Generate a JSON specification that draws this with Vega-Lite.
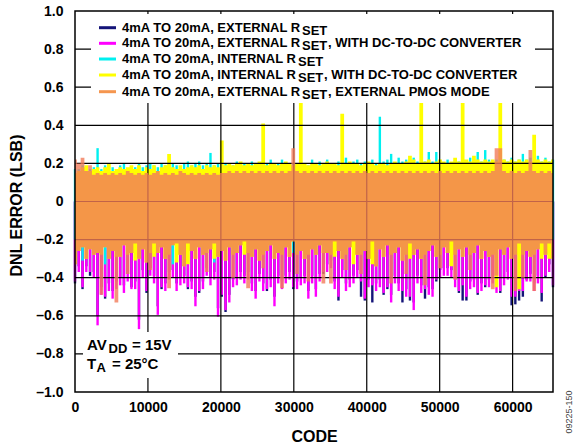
{
"$schema":"https://vega.github.io/schema/vega-lite/v6.json",
"width":478,"height":381,
"autosize":{"type":"none"},
"padding":{"left":75,"top":11,"right":26,"bottom":53},
"background":"white",
"config":{"font":"Liberation Sans","view":{"stroke":null},"axis":{"grid":false,"ticks":false,"domain":false,"labelOverlap":false}},
"datasets":{
"dnl":[
{"x":0,"n":-0.43,"m":-0.42,"c":-0.2,"C":0.17,"y":-0.33,"Y":0.15,"o":-0.33,"O":0.22},
{"x":516,"n":-0.34,"m":-0.37,"c":-0.2,"C":0.17,"y":-0.26,"Y":0.16,"o":-0.26,"O":0.2},
{"x":1032,"n":-0.46,"m":-0.45,"c":-0.31,"C":0.19,"y":-0.24,"Y":0.18,"o":-0.24,"O":0.23},
{"x":1548,"n":-0.34,"m":-0.37,"c":-0.2,"C":0.18,"y":-0.3,"Y":0.19,"o":-0.3,"O":0.16},
{"x":2064,"n":-0.39,"m":-0.37,"c":-0.2,"C":0.17,"y":-0.25,"Y":0.16,"o":-0.25,"O":0.19},
{"x":2580,"n":-0.37,"m":-0.4,"c":-0.2,"C":0.18,"y":-0.28,"Y":0.17,"o":-0.28,"O":0.14},
{"x":3096,"n":-0.6,"m":-0.65,"c":-0.2,"C":0.28,"y":-0.27,"Y":0.18,"o":-0.27,"O":0.15},
{"x":3612,"n":-0.45,"m":-0.49,"c":-0.2,"C":0.17,"y":-0.28,"Y":0.16,"o":-0.49,"O":0.14},
{"x":4128,"n":-0.51,"m":-0.5,"c":-0.33,"C":0.19,"y":-0.24,"Y":0.18,"o":-0.24,"O":0.15},
{"x":4644,"n":-0.43,"m":-0.47,"c":-0.2,"C":0.19,"y":-0.3,"Y":0.2,"o":-0.3,"O":0.14},
{"x":5160,"n":-0.47,"m":-0.51,"c":-0.2,"C":0.18,"y":-0.26,"Y":0.16,"o":-0.26,"O":0.15},
{"x":5676,"n":-0.42,"m":-0.46,"c":-0.2,"C":0.17,"y":-0.29,"Y":0.17,"o":-0.53,"O":0.14},
{"x":6192,"n":-0.4,"m":-0.44,"c":-0.2,"C":0.19,"y":-0.29,"Y":0.18,"o":-0.29,"O":0.15},
{"x":6708,"n":-0.44,"m":-0.48,"c":-0.2,"C":0.2,"y":-0.23,"Y":0.17,"o":-0.23,"O":0.14},
{"x":7224,"n":-0.38,"m":-0.42,"c":-0.2,"C":0.17,"y":-0.28,"Y":0.18,"o":-0.38,"O":0.16},
{"x":7740,"n":-0.45,"m":-0.46,"c":-0.2,"C":0.18,"y":-0.27,"Y":0.19,"o":-0.27,"O":0.15},
{"x":8256,"n":-0.42,"m":-0.46,"c":-0.2,"C":0.18,"y":-0.31,"Y":0.17,"o":-0.22,"O":0.14},
{"x":8772,"n":-0.62,"m":-0.67,"c":-0.2,"C":0.2,"y":-0.3,"Y":0.19,"o":-0.3,"O":0.15},
{"x":9288,"n":-0.36,"m":-0.4,"c":-0.2,"C":0.18,"y":-0.25,"Y":0.16,"o":-0.25,"O":0.14},
{"x":9804,"n":-0.48,"m":-0.47,"c":-0.2,"C":0.19,"y":-0.32,"Y":0.18,"o":-0.32,"O":0.15},
{"x":10320,"n":-0.35,"m":-0.39,"c":-0.2,"C":0.2,"y":-0.27,"Y":0.17,"o":-0.36,"O":0.14},
{"x":10836,"n":-0.39,"m":-0.43,"c":-0.2,"C":0.19,"y":-0.29,"Y":0.19,"o":-0.22,"O":0.15},
{"x":11352,"n":-0.55,"m":-0.595,"c":-0.2,"C":0.18,"y":-0.27,"Y":0.16,"o":-0.27,"O":0.16},
{"x":11868,"n":-0.46,"m":-0.45,"c":-0.2,"C":0.2,"y":-0.24,"Y":0.18,"o":-0.24,"O":0.14},
{"x":12384,"n":-0.43,"m":-0.47,"c":-0.2,"C":0.19,"y":-0.3,"Y":0.19,"o":-0.3,"O":0.15},
{"x":12900,"n":-0.37,"m":-0.41,"c":-0.2,"C":0.19,"y":-0.28,"Y":0.25,"o":-0.455,"O":0.14},
{"x":13416,"n":-0.36,"m":-0.4,"c":-0.33,"C":0.2,"y":-0.23,"Y":0.18,"o":-0.23,"O":0.15},
{"x":13932,"n":-0.43,"m":-0.47,"c":-0.2,"C":0.19,"y":-0.32,"Y":0.17,"o":-0.22,"O":0.14},
{"x":14448,"n":-0.4,"m":-0.44,"c":-0.2,"C":0.18,"y":-0.28,"Y":0.19,"o":-0.28,"O":0.16},
{"x":14964,"n":-0.39,"m":-0.43,"c":-0.2,"C":0.2,"y":-0.34,"Y":0.17,"o":-0.34,"O":0.15},
{"x":15480,"n":-0.46,"m":-0.45,"c":-0.2,"C":0.21,"y":-0.33,"Y":0.18,"o":-0.22,"O":0.14},
{"x":15996,"n":-0.42,"m":-0.46,"c":-0.2,"C":0.19,"y":-0.26,"Y":0.19,"o":-0.26,"O":0.15},
{"x":16512,"n":-0.5,"m":-0.55,"c":-0.2,"C":0.2,"y":-0.3,"Y":0.18,"o":-0.3,"O":0.14},
{"x":17028,"n":-0.48,"m":-0.47,"c":-0.2,"C":0.21,"y":-0.24,"Y":0.19,"o":-0.24,"O":0.15},
{"x":17544,"n":-0.42,"m":-0.46,"c":-0.2,"C":0.19,"y":-0.28,"Y":0.17,"o":-0.28,"O":0.14},
{"x":18060,"n":-0.35,"m":-0.39,"c":-0.2,"C":0.2,"y":-0.27,"Y":0.19,"o":-0.37,"O":0.15},
{"x":18576,"n":-0.4,"m":-0.44,"c":-0.2,"C":0.255,"y":-0.25,"Y":0.18,"o":-0.25,"O":0.14},
{"x":19092,"n":-0.37,"m":-0.41,"c":-0.32,"C":0.19,"y":-0.3,"Y":0.19,"o":-0.22,"O":0.15},
{"x":19608,"n":-0.56,"m":-0.605,"c":-0.2,"C":0.2,"y":-0.29,"Y":0.18,"o":-0.29,"O":0.14},
{"x":20124,"n":-0.5,"m":-0.49,"c":-0.2,"C":0.19,"y":-0.26,"Y":0.32,"o":-0.26,"O":0.15},
{"x":20640,"n":-0.58,"m":-0.57,"c":-0.2,"C":0.2,"y":-0.31,"Y":0.19,"o":-0.31,"O":0.15},
{"x":21156,"n":-0.49,"m":-0.53,"c":-0.2,"C":0.2,"y":-0.24,"Y":0.2,"o":-0.24,"O":0.16},
{"x":21672,"n":-0.41,"m":-0.45,"c":-0.2,"C":0.19,"y":-0.28,"Y":0.19,"o":-0.4,"O":0.15},
{"x":22188,"n":-0.4,"m":-0.44,"c":-0.2,"C":0.21,"y":-0.27,"Y":0.2,"o":-0.27,"O":0.16},
{"x":22704,"n":-0.37,"m":-0.41,"c":-0.2,"C":0.19,"y":-0.23,"Y":0.21,"o":-0.23,"O":0.15},
{"x":23220,"n":-0.39,"m":-0.43,"c":-0.2,"C":0.2,"y":-0.28,"Y":0.19,"o":-0.21,"O":0.16},
{"x":23736,"n":-0.37,"m":-0.41,"c":-0.2,"C":0.19,"y":-0.27,"Y":0.2,"o":-0.455,"O":0.15},
{"x":24252,"n":-0.43,"m":-0.47,"c":-0.2,"C":0.21,"y":-0.29,"Y":0.19,"o":-0.29,"O":0.16},
{"x":24768,"n":-0.47,"m":-0.51,"c":-0.2,"C":0.19,"y":-0.25,"Y":0.2,"o":-0.25,"O":0.15},
{"x":25284,"n":-0.38,"m":-0.42,"c":-0.2,"C":0.2,"y":-0.31,"Y":0.21,"o":-0.31,"O":0.16},
{"x":25800,"n":-0.43,"m":-0.47,"c":-0.2,"C":0.2,"y":-0.28,"Y":0.41,"o":-0.35,"O":0.15},
{"x":26316,"n":-0.47,"m":-0.46,"c":-0.2,"C":0.2,"y":-0.26,"Y":0.19,"o":-0.26,"O":0.16},
{"x":26832,"n":-0.41,"m":-0.45,"c":-0.2,"C":0.22,"y":-0.23,"Y":0.2,"o":-0.23,"O":0.15},
{"x":27348,"n":-0.5,"m":-0.55,"c":-0.2,"C":0.19,"y":-0.3,"Y":0.2,"o":-0.3,"O":0.16},
{"x":27864,"n":-0.39,"m":-0.43,"c":-0.2,"C":0.2,"y":-0.27,"Y":0.19,"o":-0.27,"O":0.15},
{"x":28380,"n":-0.42,"m":-0.46,"c":-0.2,"C":0.22,"y":-0.28,"Y":0.2,"o":-0.455,"O":0.16},
{"x":28896,"n":-0.39,"m":-0.43,"c":-0.2,"C":0.2,"y":-0.24,"Y":0.21,"o":-0.24,"O":0.15},
{"x":29412,"n":-0.37,"m":-0.41,"c":-0.2,"C":0.19,"y":-0.29,"Y":0.2,"o":-0.29,"O":0.16},
{"x":29928,"n":-0.46,"m":-0.45,"c":-0.27,"C":0.2,"y":-0.21,"Y":0.19,"o":-0.21,"O":0.28},
{"x":30444,"n":-0.42,"m":-0.46,"c":-0.2,"C":0.2,"y":-0.28,"Y":0.2,"o":-0.38,"O":0.16},
{"x":30960,"n":-0.4,"m":-0.44,"c":-0.2,"C":0.21,"y":-0.26,"Y":0.55,"o":-0.26,"O":0.15},
{"x":31476,"n":-0.39,"m":-0.43,"c":-0.2,"C":0.2,"y":-0.3,"Y":0.2,"o":-0.3,"O":0.16},
{"x":31992,"n":-0.47,"m":-0.51,"c":-0.2,"C":0.19,"y":-0.28,"Y":0.19,"o":-0.42,"O":0.15},
{"x":32508,"n":-0.39,"m":-0.43,"c":-0.2,"C":0.22,"y":-0.25,"Y":0.2,"o":-0.25,"O":0.16},
{"x":33024,"n":-0.46,"m":-0.5,"c":-0.2,"C":0.2,"y":-0.28,"Y":0.2,"o":-0.28,"O":0.15},
{"x":33540,"n":-0.38,"m":-0.42,"c":-0.2,"C":0.21,"y":-0.23,"Y":0.19,"o":-0.23,"O":0.16},
{"x":34056,"n":-0.38,"m":-0.37,"c":-0.2,"C":0.2,"y":-0.27,"Y":0.2,"o":-0.43,"O":0.15},
{"x":34572,"n":-0.33,"m":-0.37,"c":-0.2,"C":0.22,"y":-0.27,"Y":0.21,"o":-0.27,"O":0.16},
{"x":35088,"n":-0.31,"m":-0.35,"c":-0.2,"C":0.2,"y":-0.28,"Y":0.2,"o":-0.43,"O":0.15},
{"x":35604,"n":-0.42,"m":-0.46,"c":-0.2,"C":0.19,"y":-0.29,"Y":0.2,"o":-0.21,"O":0.16},
{"x":36120,"n":-0.52,"m":-0.5,"c":-0.2,"C":0.21,"y":-0.26,"Y":0.19,"o":-0.26,"O":0.15},
{"x":36636,"n":-0.36,"m":-0.4,"c":-0.2,"C":0.2,"y":-0.3,"Y":0.46,"o":-0.3,"O":0.16},
{"x":37152,"n":-0.43,"m":-0.47,"c":-0.2,"C":0.23,"y":-0.28,"Y":0.2,"o":-0.36,"O":0.15},
{"x":37668,"n":-0.41,"m":-0.45,"c":-0.2,"C":0.2,"y":-0.24,"Y":0.21,"o":-0.24,"O":0.16},
{"x":38184,"n":-0.39,"m":-0.43,"c":-0.2,"C":0.21,"y":-0.33,"Y":0.2,"o":-0.21,"O":0.15},
{"x":38700,"n":-0.36,"m":-0.4,"c":-0.2,"C":0.22,"y":-0.28,"Y":0.2,"o":-0.28,"O":0.16},
{"x":39216,"n":-0.5,"m":-0.42,"c":-0.2,"C":0.2,"y":-0.28,"Y":0.19,"o":-0.38,"O":0.15},
{"x":39732,"n":-0.52,"m":-0.51,"c":-0.2,"C":0.21,"y":-0.26,"Y":0.2,"o":-0.26,"O":0.16},
{"x":40248,"n":-0.41,"m":-0.45,"c":-0.2,"C":0.2,"y":-0.3,"Y":0.21,"o":-0.3,"O":0.15},
{"x":40764,"n":-0.53,"m":-0.44,"c":-0.2,"C":0.22,"y":-0.33,"Y":0.2,"o":-0.21,"O":0.16},
{"x":41280,"n":-0.43,"m":-0.47,"c":-0.2,"C":0.2,"y":-0.34,"Y":0.19,"o":-0.34,"O":0.15},
{"x":41796,"n":-0.41,"m":-0.45,"c":-0.2,"C":0.445,"y":-0.25,"Y":0.2,"o":-0.25,"O":0.16},
{"x":42312,"n":-0.49,"m":-0.48,"c":-0.2,"C":0.21,"y":-0.29,"Y":0.2,"o":-0.29,"O":0.15},
{"x":42828,"n":-0.46,"m":-0.45,"c":-0.2,"C":0.22,"y":-0.23,"Y":0.19,"o":-0.23,"O":0.16},
{"x":43344,"n":-0.49,"m":-0.53,"c":-0.2,"C":0.25,"y":-0.28,"Y":0.2,"o":-0.43,"O":0.15},
{"x":43860,"n":-0.39,"m":-0.43,"c":-0.2,"C":0.2,"y":-0.27,"Y":0.21,"o":-0.27,"O":0.16},
{"x":44376,"n":-0.43,"m":-0.47,"c":-0.2,"C":0.23,"y":-0.24,"Y":0.2,"o":-0.24,"O":0.15},
{"x":44892,"n":-0.53,"m":-0.47,"c":-0.2,"C":0.21,"y":-0.31,"Y":0.2,"o":-0.31,"O":0.16},
{"x":45408,"n":-0.46,"m":-0.5,"c":-0.2,"C":0.22,"y":-0.28,"Y":0.21,"o":-0.38,"O":0.15},
{"x":45924,"n":-0.52,"m":-0.5,"c":-0.2,"C":0.2,"y":-0.3,"Y":0.24,"o":-0.22,"O":0.16},
{"x":46440,"n":-0.53,"m":-0.57,"c":-0.2,"C":0.23,"y":-0.28,"Y":0.22,"o":-0.28,"O":0.15},
{"x":46956,"n":-0.39,"m":-0.43,"c":-0.2,"C":0.21,"y":-0.25,"Y":0.2,"o":-0.25,"O":0.16},
{"x":47472,"n":-0.44,"m":-0.48,"c":-0.2,"C":0.22,"y":-0.3,"Y":0.55,"o":-0.3,"O":0.15},
{"x":47988,"n":-0.51,"m":-0.46,"c":-0.2,"C":0.21,"y":-0.28,"Y":0.21,"o":-0.44,"O":0.16},
{"x":48504,"n":-0.45,"m":-0.49,"c":-0.2,"C":0.26,"y":-0.26,"Y":0.22,"o":-0.26,"O":0.15},
{"x":49020,"n":-0.46,"m":-0.5,"c":-0.2,"C":0.21,"y":-0.23,"Y":0.2,"o":-0.23,"O":0.16},
{"x":49536,"n":-0.42,"m":-0.41,"c":-0.2,"C":0.26,"y":-0.29,"Y":0.21,"o":-0.29,"O":0.15},
{"x":50052,"n":-0.36,"m":-0.4,"c":-0.2,"C":0.21,"y":-0.28,"Y":0.22,"o":-0.35,"O":0.16},
{"x":50568,"n":-0.35,"m":-0.39,"c":-0.2,"C":0.2,"y":-0.24,"Y":0.21,"o":-0.24,"O":0.15},
{"x":51084,"n":-0.35,"m":-0.39,"c":-0.2,"C":0.22,"y":-0.27,"Y":0.2,"o":-0.27,"O":0.16},
{"x":51600,"n":-0.36,"m":-0.4,"c":-0.2,"C":0.2,"y":-0.34,"Y":0.21,"o":-0.21,"O":0.15},
{"x":52116,"n":-0.41,"m":-0.45,"c":-0.2,"C":0.22,"y":-0.28,"Y":0.23,"o":-0.41,"O":0.16},
{"x":52632,"n":-0.48,"m":-0.47,"c":-0.2,"C":0.21,"y":-0.25,"Y":0.21,"o":-0.25,"O":0.15},
{"x":53148,"n":-0.52,"m":-0.44,"c":-0.2,"C":0.22,"y":-0.29,"Y":0.55,"o":-0.29,"O":0.16},
{"x":53664,"n":-0.52,"m":-0.5,"c":-0.2,"C":0.21,"y":-0.24,"Y":0.22,"o":-0.24,"O":0.15},
{"x":54180,"n":-0.42,"m":-0.46,"c":-0.2,"C":0.23,"y":-0.28,"Y":0.21,"o":-0.36,"O":0.16},
{"x":54696,"n":-0.41,"m":-0.45,"c":-0.2,"C":0.21,"y":-0.27,"Y":0.24,"o":-0.27,"O":0.15},
{"x":55212,"n":-0.49,"m":-0.48,"c":-0.2,"C":0.26,"y":-0.23,"Y":0.22,"o":-0.23,"O":0.16},
{"x":55728,"n":-0.43,"m":-0.47,"c":-0.2,"C":0.21,"y":-0.3,"Y":0.21,"o":-0.3,"O":0.15},
{"x":56244,"n":-0.45,"m":-0.44,"c":-0.2,"C":0.27,"y":-0.26,"Y":0.22,"o":-0.26,"O":0.16},
{"x":56760,"n":-0.41,"m":-0.45,"c":-0.2,"C":0.22,"y":-0.29,"Y":0.21,"o":-0.29,"O":0.15},
{"x":57276,"n":-0.39,"m":-0.43,"c":-0.2,"C":0.21,"y":-0.28,"Y":0.22,"o":-0.46,"O":0.16},
{"x":57792,"n":-0.44,"m":-0.48,"c":-0.2,"C":0.22,"y":-0.45,"Y":0.21,"o":-0.39,"O":0.28},
{"x":58308,"n":-0.48,"m":-0.47,"c":-0.2,"C":0.21,"y":-0.25,"Y":0.55,"o":-0.25,"O":0.28},
{"x":58824,"n":-0.4,"m":-0.44,"c":-0.2,"C":0.22,"y":-0.28,"Y":0.22,"o":-0.28,"O":0.16},
{"x":59340,"n":-0.37,"m":-0.41,"c":-0.2,"C":0.21,"y":-0.24,"Y":0.21,"o":-0.24,"O":0.15},
{"x":59856,"n":-0.545,"m":-0.5,"c":-0.2,"C":0.23,"y":-0.3,"Y":0.22,"o":-0.3,"O":0.16},
{"x":60372,"n":-0.54,"m":-0.5,"c":-0.2,"C":0.21,"y":-0.28,"Y":0.21,"o":-0.47,"O":0.15},
{"x":60888,"n":-0.52,"m":-0.47,"c":-0.2,"C":0.22,"y":-0.46,"Y":0.22,"o":-0.22,"O":0.16},
{"x":61404,"n":-0.5,"m":-0.47,"c":-0.2,"C":0.25,"y":-0.28,"Y":0.21,"o":-0.4,"O":0.15},
{"x":61920,"n":-0.41,"m":-0.42,"c":-0.2,"C":0.22,"y":-0.26,"Y":0.22,"o":-0.26,"O":0.16},
{"x":62436,"n":-0.38,"m":-0.42,"c":-0.2,"C":0.23,"y":-0.29,"Y":0.21,"o":-0.29,"O":0.27},
{"x":62952,"n":-0.43,"m":-0.47,"c":-0.2,"C":0.21,"y":-0.28,"Y":0.35,"o":-0.47,"O":0.16},
{"x":63468,"n":-0.39,"m":-0.43,"c":-0.2,"C":0.24,"y":-0.25,"Y":0.22,"o":-0.25,"O":0.15},
{"x":63984,"n":-0.525,"m":-0.48,"c":-0.2,"C":0.21,"y":-0.3,"Y":0.21,"o":-0.22,"O":0.16},
{"x":64500,"n":-0.4,"m":-0.39,"c":-0.2,"C":0.23,"y":-0.28,"Y":0.22,"o":-0.28,"O":0.15},
{"x":65016,"n":-0.33,"m":-0.37,"c":-0.2,"C":0.21,"y":-0.3,"Y":0.21,"o":-0.22,"O":0.16},
{"x":65532,"n":-0.45,"m":-0.44,"c":-0.2,"C":0.22,"y":-0.3,"Y":0.22,"o":-0.3,"O":0.15}
],
"gx":[{"v":10000},{"v":20000},{"v":30000},{"v":40000},{"v":50000},{"v":60000}],
"gy":[{"v":-0.8},{"v":-0.6},{"v":-0.4},{"v":-0.2},{"v":0},{"v":0.2},{"v":0.4},{"v":0.6},{"v":0.8}]
},
"layer":[
{"data":{"name":"dnl"},"mark":{"type":"rule","color":"#141478","strokeWidth":2.4},
 "encoding":{
  "x":{"field":"x","type":"quantitative","title":"CODE","scale":{"domain":[0,65536],"nice":false,"zero":false},
   "axis":{"values":[0,10000,20000,30000,40000,50000,60000],"tickCount":20,"format":"d","labelFlush":false,"labelOverlap":false,"ticks":false,"tickSize":0,"domain":false,"grid":false,"labelFontSize":14,"labelFontWeight":"bold","labelColor":"#000","labelPadding":8,"title":"CODE","titleFontSize":16,"titleFontWeight":"bold","titleColor":"#000","titleBaseline":"alphabetic","titleY":49}},
  "y":{"field":"n","type":"quantitative","title":"DNL ERROR (LSB)","scale":{"domain":[-1,1],"nice":false,"zero":false},
   "axis":{"values":[-1,-0.8,-0.6,-0.4,-0.2,0,0.2,0.4,0.6,0.8,1],"tickCount":20,"labelExpr":"datum.value < -0.001 ? '–' + format(-datum.value, '.1f') : (abs(datum.value) < 0.001 ? '0' : format(datum.value, '.1f'))","labelOverlap":false,"ticks":false,"tickSize":0,"domain":false,"grid":false,"labelFontSize":14,"labelFontWeight":"bold","labelColor":"#000","labelPadding":12,"title":"DNL ERROR (LSB)","titleFontSize":16,"titleFontWeight":"bold","titleColor":"#000","titleAngle":270,"titleBaseline":"middle","titleAlign":"center","titleX":-59,"titleY":194}},
  "y2":{"datum":0}}},
{"data":{"name":"dnl"},"mark":{"type":"rule","color":"#ff00ff","strokeWidth":2.4},
 "encoding":{"x":{"field":"x","type":"quantitative","title":"CODE"},"y":{"field":"m","type":"quantitative","title":"DNL ERROR (LSB)"},"y2":{"datum":0}}},
{"data":{"name":"dnl"},"mark":{"type":"rule","color":"#00f0f0","strokeWidth":2.4},
 "encoding":{"x":{"field":"x","type":"quantitative","title":"CODE"},"y":{"field":"c","type":"quantitative","title":"DNL ERROR (LSB)"},"y2":{"field":"C"}}},
{"data":{"name":"dnl"},"mark":{"type":"area","interpolate":"step","color":"#ffff00"},
 "encoding":{"x":{"field":"x","type":"quantitative","title":"CODE"},"y":{"field":"y","type":"quantitative","title":"DNL ERROR (LSB)"},"y2":{"field":"Y"}}},
{"data":{"name":"gx"},"mark":{"type":"rule","color":"#000","strokeWidth":1.2},
 "encoding":{"x":{"field":"v","type":"quantitative","title":"CODE"}}},
{"data":{"name":"gy"},"mark":{"type":"rule","color":"#000","strokeWidth":1.2},
 "encoding":{"y":{"field":"v","type":"quantitative","title":"DNL ERROR (LSB)"}}},
{"data":{"name":"dnl"},"mark":{"type":"area","interpolate":"step","color":"#f17c5a","opacity":0.8},
 "encoding":{"x":{"field":"x","type":"quantitative","title":"CODE"},"y":{"field":"o","type":"quantitative","title":"DNL ERROR (LSB)"},"y2":{"field":"O"}}},
{"data":{"values":[{}]},"mark":{"type":"rect","color":"#ffffff"},
 "encoding":{"x":{"datum":2194,"title":"CODE"},"x2":{"datum":63068},"y":{"datum":0.517,"title":"DNL ERROR (LSB)"},"y2":{"datum":0.9843}}},
{"data":{"values":[{}]},"mark":{"type":"rule","color":"#141478","strokeWidth":3},
 "encoding":{"x":{"datum":3290,"title":"CODE"},"x2":{"datum":5621},"y":{"datum":0.9123,"title":"DNL ERROR (LSB)"}}},
{"data":{"values":[{}]},"mark":{"type":"rule","color":"#ff00ff","strokeWidth":3},
 "encoding":{"x":{"datum":3290,"title":"CODE"},"x2":{"datum":5621},"y":{"datum":0.8304,"title":"DNL ERROR (LSB)"}}},
{"data":{"values":[{}]},"mark":{"type":"rule","color":"#00f0f0","strokeWidth":3},
 "encoding":{"x":{"datum":3290,"title":"CODE"},"x2":{"datum":5621},"y":{"datum":0.748,"title":"DNL ERROR (LSB)"}}},
{"data":{"values":[{}]},"mark":{"type":"rule","color":"#ffff00","strokeWidth":3},
 "encoding":{"x":{"datum":3290,"title":"CODE"},"x2":{"datum":5621},"y":{"datum":0.664,"title":"DNL ERROR (LSB)"}}},
{"data":{"values":[{}]},"mark":{"type":"rule","color":"#f5964f","strokeWidth":3},
 "encoding":{"x":{"datum":3290,"title":"CODE"},"x2":{"datum":5621},"y":{"datum":0.5764,"title":"DNL ERROR (LSB)"}}},
{"data":{"values":[{}]},"mark":{"type":"text","text":"4mA TO 20mA, EXTERNAL R","align":"left","baseline":"middle","fontSize":13,"fontWeight":"bold","color":"#000"},
 "encoding":{"x":{"datum":6444,"title":"CODE"},"y":{"datum":0.9123,"title":"DNL ERROR (LSB)"}}},
{"data":{"values":[{}]},"mark":{"type":"text","text":"4mA TO 20mA, EXTERNAL R","align":"left","baseline":"middle","fontSize":13,"fontWeight":"bold","color":"#000"},
 "encoding":{"x":{"datum":6444,"title":"CODE"},"y":{"datum":0.8304,"title":"DNL ERROR (LSB)"}}},
{"data":{"values":[{}]},"mark":{"type":"text","text":"4mA TO 20mA, INTERNAL R","align":"left","baseline":"middle","fontSize":13,"fontWeight":"bold","color":"#000"},
 "encoding":{"x":{"datum":6444,"title":"CODE"},"y":{"datum":0.748,"title":"DNL ERROR (LSB)"}}},
{"data":{"values":[{}]},"mark":{"type":"text","text":"4mA TO 20mA, INTERNAL R","align":"left","baseline":"middle","fontSize":13,"fontWeight":"bold","color":"#000"},
 "encoding":{"x":{"datum":6444,"title":"CODE"},"y":{"datum":0.664,"title":"DNL ERROR (LSB)"}}},
{"data":{"values":[{}]},"mark":{"type":"text","text":"4mA TO 20mA, EXTERNAL R","align":"left","baseline":"middle","fontSize":13,"fontWeight":"bold","color":"#000"},
 "encoding":{"x":{"datum":6444,"title":"CODE"},"y":{"datum":0.5764,"title":"DNL ERROR (LSB)"}}},
{"data":{"values":[{}]},"mark":{"type":"text","text":"SET","align":"left","baseline":"middle","fontSize":13,"fontWeight":"bold","color":"#000","dy":3},
 "encoding":{"x":{"datum":31123,"title":"CODE"},"y":{"datum":0.9123,"title":"DNL ERROR (LSB)"}}},
{"data":{"values":[{}]},"mark":{"type":"text","text":"SET","align":"left","baseline":"middle","fontSize":13,"fontWeight":"bold","color":"#000","dy":3},
 "encoding":{"x":{"datum":31123,"title":"CODE"},"y":{"datum":0.8304,"title":"DNL ERROR (LSB)"}}},
{"data":{"values":[{}]},"mark":{"type":"text","text":"SET","align":"left","baseline":"middle","fontSize":13,"fontWeight":"bold","color":"#000","dy":3},
 "encoding":{"x":{"datum":30575,"title":"CODE"},"y":{"datum":0.748,"title":"DNL ERROR (LSB)"}}},
{"data":{"values":[{}]},"mark":{"type":"text","text":"SET","align":"left","baseline":"middle","fontSize":13,"fontWeight":"bold","color":"#000","dy":3},
 "encoding":{"x":{"datum":30575,"title":"CODE"},"y":{"datum":0.664,"title":"DNL ERROR (LSB)"}}},
{"data":{"values":[{}]},"mark":{"type":"text","text":"SET","align":"left","baseline":"middle","fontSize":13,"fontWeight":"bold","color":"#000","dy":3},
 "encoding":{"x":{"datum":31123,"title":"CODE"},"y":{"datum":0.5764,"title":"DNL ERROR (LSB)"}}},
{"data":{"values":[{}]},"mark":{"type":"text","text":", WITH DC-TO-DC CONVERTER","align":"left","baseline":"middle","fontSize":13,"fontWeight":"bold","color":"#000"},
 "encoding":{"x":{"datum":34687,"title":"CODE"},"y":{"datum":0.8304,"title":"DNL ERROR (LSB)"}}},
{"data":{"values":[{}]},"mark":{"type":"text","text":", WITH DC-TO-DC CONVERTER","align":"left","baseline":"middle","fontSize":13,"fontWeight":"bold","color":"#000"},
 "encoding":{"x":{"datum":34139,"title":"CODE"},"y":{"datum":0.664,"title":"DNL ERROR (LSB)"}}},
{"data":{"values":[{}]},"mark":{"type":"text","text":", EXTERNAL PMOS MODE","align":"left","baseline":"middle","fontSize":13,"fontWeight":"bold","color":"#000"},
 "encoding":{"x":{"datum":34687,"title":"CODE"},"y":{"datum":0.5764,"title":"DNL ERROR (LSB)"}}},
{"data":{"values":[{}]},"mark":{"type":"rect","color":"#ffffff"},
 "encoding":{"x":{"datum":1097,"title":"CODE"},"x2":{"datum":14122},"y":{"datum":-0.9265,"title":"DNL ERROR (LSB)"},"y2":{"datum":-0.685}}},
{"data":{"values":[{}]},"mark":{"type":"text","text":"AV","align":"left","baseline":"alphabetic","fontSize":15,"fontWeight":"bold","color":"#000"},
 "encoding":{"x":{"datum":1645,"title":"CODE"},"y":{"datum":-0.7795,"title":"DNL ERROR (LSB)"}}},
{"data":{"values":[{}]},"mark":{"type":"text","text":"DD","align":"left","baseline":"alphabetic","fontSize":13,"fontWeight":"bold","color":"#000"},
 "encoding":{"x":{"datum":4593,"title":"CODE"},"y":{"datum":-0.7927,"title":"DNL ERROR (LSB)"}}},
{"data":{"values":[{}]},"mark":{"type":"text","text":"= 15V","align":"left","baseline":"alphabetic","fontSize":15,"fontWeight":"bold","color":"#000"},
 "encoding":{"x":{"datum":7815,"title":"CODE"},"y":{"datum":-0.7795,"title":"DNL ERROR (LSB)"}}},
{"data":{"values":[{}]},"mark":{"type":"text","text":"T","align":"left","baseline":"alphabetic","fontSize":15,"fontWeight":"bold","color":"#000"},
 "encoding":{"x":{"datum":1645,"title":"CODE"},"y":{"datum":-0.8793,"title":"DNL ERROR (LSB)"}}},
{"data":{"values":[{}]},"mark":{"type":"text","text":"A","align":"left","baseline":"alphabetic","fontSize":13,"fontWeight":"bold","color":"#000"},
 "encoding":{"x":{"datum":2948,"title":"CODE"},"y":{"datum":-0.8976,"title":"DNL ERROR (LSB)"}}},
{"data":{"values":[{}]},"mark":{"type":"text","text":"= 25°C","align":"left","baseline":"alphabetic","fontSize":15,"fontWeight":"bold","color":"#000"},
 "encoding":{"x":{"datum":5073,"title":"CODE"},"y":{"datum":-0.8793,"title":"DNL ERROR (LSB)"}}},
{"data":{"values":[{}]},"mark":{"type":"text","text":"09225-150","align":"center","baseline":"middle","fontSize":9,"color":"#444","angle":270},
 "encoding":{"x":{"datum":67730,"title":"CODE"},"y":{"datum":-1.105,"title":"DNL ERROR (LSB)"}}},
{"data":{"values":[{}]},"mark":{"type":"rect","fill":"transparent","stroke":"#000","strokeWidth":1.5},
 "encoding":{"x":{"datum":0,"title":"CODE"},"x2":{"datum":65536},"y":{"datum":-1,"title":"DNL ERROR (LSB)"},"y2":{"datum":1}}}
]
}
